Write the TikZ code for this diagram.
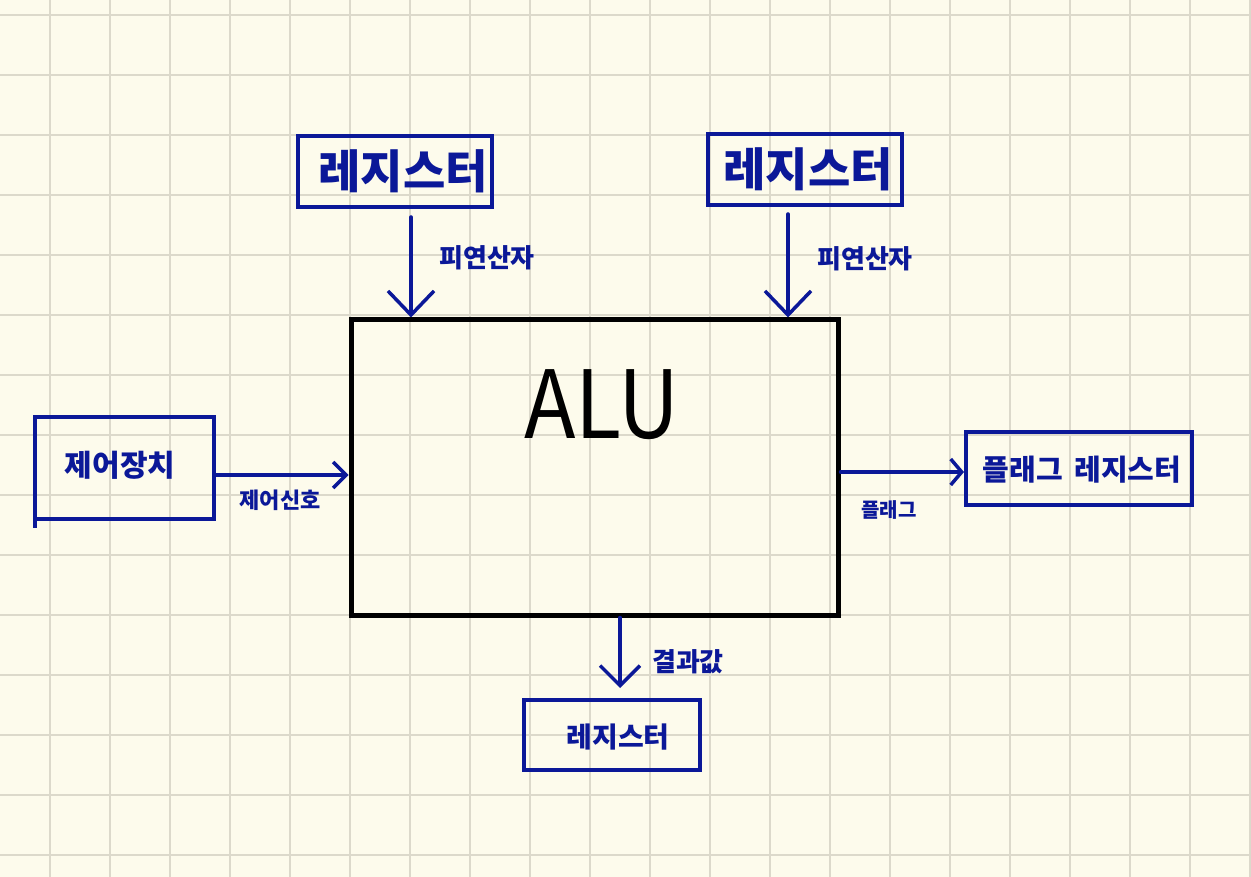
\documentclass[tikz,border=0pt]{standalone}
\usepackage{fontspec}
\newfontfamily\kr{Noto Sans CJK KR}
\usetikzlibrary{arrows.meta,calc}
\definecolor{paper}{HTML}{FDFBEC}
\definecolor{gridc}{HTML}{DCD9CB}
\definecolor{pen}{HTML}{0B1898}
\tikzset{
  box/.style={draw=pen,line width=4pt,minimum width=#1,inner sep=0pt,anchor=center},
  lbl/.style={text=pen,font=\kr\bfseries,inner sep=0pt,anchor=center},
  arr/.style={draw=pen,line width=3.5pt,line cap=round,line join=round},
}
\begin{document}
\begin{tikzpicture}[x=1pt,y=-1pt]
\useasboundingbox (0,0) rectangle (1251,877);
\fill[paper] (0,0) rectangle (1251,877);
\foreach \gx in {50,110,...,1250} \draw[gridc,line width=2pt] (\gx,0) -- (\gx,877);
\foreach \gy in {15,75,...,875} \draw[gridc,line width=2pt] (0,\gy) -- (1251,\gy);

% ALU
\node[draw=black,line width=5pt,minimum width=487pt,minimum height=295pt,inner sep=0pt] (alu) at (594.5,467.5) {};
\node[font=\kr\fontsize{94}{94}\selectfont,text=black,inner sep=0pt,xscale=0.9] (alutext) at (602,405) {ALU};

% boxes
\node[box=194pt,minimum height=71pt] (reg1) at (395,171.5) {};
\node[lbl,font=\kr\bfseries\fontsize{46}{46}\selectfont] (reg1t) at (403,171) {레지스터};
\node[box=194pt,minimum height=71pt] (reg2) at (805,169.5) {};
\node[lbl,font=\kr\bfseries\fontsize{46}{46}\selectfont] (reg2t) at (808,169) {레지스터};
\node[box=179pt,minimum height=102pt] (ctrl) at (124.5,468) {};
\node[lbl,font=\kr\bfseries\fontsize{30}{30}\selectfont] (ctrlt) at (120,465) {제어장치};
\draw[pen,line width=4pt] ([xshift=2pt,yshift=3pt]ctrl.south west) -- ++(0,10);
\node[box=226pt,minimum height=73pt] (flagreg) at (1079,468.5) {};
\node[lbl,font=\kr\bfseries\fontsize{29}{29}\selectfont] (flagregt) at (1082,470) {플래그 \,레지스터};
\node[box=176pt,minimum height=70pt] (botreg) at (612,735) {};
\node[lbl,font=\kr\bfseries\fontsize{28}{28}\selectfont] (botregt) at (618,737) {레지스터};

% connectors
\draw[arr,-{Straight Barb[length=24pt,width=46pt]}] ([xshift=16pt,yshift=-8pt]reg1.south) -- ([xshift=16pt]reg1.south |- alu.north);
\draw[arr,-{Straight Barb[length=24pt,width=46pt]}] ([xshift=-17pt,yshift=-7pt]reg2.south) -- ([xshift=-17pt]reg2.south |- alu.north);
\draw[arr,-{Straight Barb[length=13pt,width=26pt]}] ([yshift=-7pt]ctrl.east) -- ([yshift=-7pt]ctrl.east -| alu.west);
\draw[arr,-{Straight Barb[length=11pt,width=26pt]}] ([yshift=-3.5pt]flagreg.west -| alu.east) -- ([yshift=-3.5pt]flagreg.west);
\draw[arr,-{Straight Barb[length=20pt,width=40pt]}] ([xshift=8pt]botreg.north |- alu.south) -- ([xshift=8pt,yshift=10pt]botreg.north);

% labels
\node[lbl,font=\kr\bfseries\fontsize{26}{26}\selectfont] (op1) at (487,258) {피연산자};
\node[lbl,font=\kr\bfseries\fontsize{26}{26}\selectfont] (op2) at (865,259) {피연산자};
\node[lbl,font=\kr\bfseries\fontsize{22}{22}\selectfont] (sig) at (280,500) {제어신호};
\node[lbl,font=\kr\bfseries\fontsize{20}{20}\selectfont] (flag) at (889,510) {플래그};
\node[lbl,font=\kr\bfseries\fontsize{26}{26}\selectfont] (res) at (688,662) {결과값};
\end{tikzpicture}
\end{document}
